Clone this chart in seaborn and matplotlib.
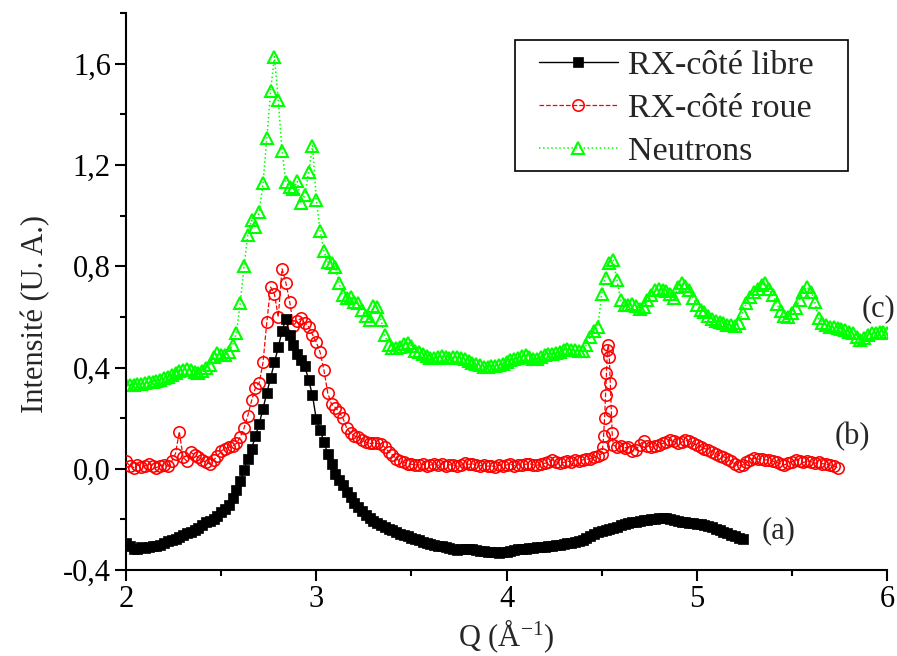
import numpy as np
import pandas as pd
import matplotlib
matplotlib.use("Agg")
import matplotlib.pyplot as plt
import seaborn as sns
from matplotlib.ticker import MultipleLocator, FuncFormatter
from matplotlib.patches import Rectangle

# ---------------- data ----------------
# (a) RX-côté libre : Q from 2.00 to 5.24, step 0.02
libre_q = np.round(np.linspace(2.00, 5.24, 163), 3)
libre_i = [
    -0.293, -0.305, -0.318, -0.315, -0.310, -0.312, -0.308, -0.305, -0.303, -0.300,
    -0.292, -0.285, -0.280, -0.276, -0.270, -0.262, -0.255, -0.250, -0.242, -0.232,
    -0.222, -0.212, -0.205, -0.198, -0.188, -0.172, -0.160, -0.142, -0.115, -0.085,
    -0.050, -0.005, 0.040, 0.080, 0.128, 0.178, 0.238, 0.300, 0.360, 0.420,
    0.480, 0.545, 0.592, 0.530, 0.490, 0.455, 0.430, 0.405, 0.350, 0.290,
    0.195, 0.155, 0.105, 0.060, 0.020, -0.020, -0.045, -0.065, -0.090, -0.110,
    -0.135, -0.150, -0.165, -0.182, -0.195, -0.205, -0.213, -0.222, -0.230, -0.236,
    -0.243, -0.250, -0.256, -0.262, -0.266, -0.272, -0.278, -0.283, -0.288, -0.292,
    -0.296, -0.300, -0.303, -0.306, -0.310, -0.314, -0.316, -0.319, -0.318, -0.315,
    -0.316, -0.318, -0.322, -0.325, -0.326, -0.328, -0.330, -0.329, -0.332, -0.330,
    -0.328, -0.324, -0.320, -0.318, -0.315, -0.316, -0.314, -0.312, -0.310, -0.308,
    -0.307, -0.306, -0.304, -0.302, -0.300, -0.298, -0.295, -0.292, -0.288, -0.285,
    -0.280, -0.272, -0.264, -0.256, -0.248, -0.244, -0.240, -0.236, -0.232, -0.228,
    -0.222, -0.220, -0.216, -0.212, -0.210, -0.207, -0.204, -0.202, -0.200, -0.198,
    -0.196, -0.194, -0.196, -0.200, -0.203, -0.206, -0.210, -0.212, -0.214, -0.216,
    -0.218, -0.220, -0.222, -0.225, -0.230, -0.236, -0.242, -0.248, -0.254, -0.260,
    -0.266, -0.272, -0.278,
]

# (b) RX-côté roue : Q grid 2.00-4.48 (0.02), 4.500-4.560 (0.005), 4.58-5.74 (0.02)
roue_q = np.round(np.concatenate([
    np.linspace(2.00, 4.48, 125),
    np.linspace(4.50, 4.56, 13),
    np.linspace(4.58, 5.74, 59),
]), 3)
roue_i = [
    0.030, 0.010, 0.005, 0.015, 0.008, 0.012, 0.020, 0.010, 0.005, 0.012,
    0.015, 0.010, 0.030, 0.060, 0.147, 0.045, 0.030, 0.065, 0.055, 0.045,
    0.035, 0.025, 0.020, 0.035, 0.050, 0.070, 0.080, 0.085, 0.090, 0.100,
    0.125, 0.160, 0.210, 0.270, 0.320, 0.340, 0.420, 0.580, 0.718, 0.690,
    0.600, 0.790, 0.735, 0.660, 0.565, 0.585, 0.594, 0.575, 0.561, 0.530,
    0.500, 0.460, 0.390, 0.300, 0.255, 0.242, 0.225, 0.200, 0.160, 0.140,
    0.130, 0.125, 0.115, 0.105, 0.100, 0.102, 0.100, 0.098, 0.085, 0.068,
    0.055, 0.040, 0.030, 0.025, 0.020, 0.018, 0.016, 0.015, 0.018, 0.012,
    0.015, 0.018, 0.014, 0.020, 0.012, 0.016, 0.015, 0.010, 0.014, 0.022,
    0.018, 0.020, 0.015, 0.012, 0.016, 0.010, 0.012, 0.008, 0.014, 0.012,
    0.015, 0.018, 0.012, 0.016, 0.014, 0.018, 0.020, 0.016, 0.014, 0.018,
    0.022, 0.025, 0.035, 0.028, 0.022, 0.025, 0.030, 0.028, 0.035, 0.032,
    0.035, 0.038, 0.040, 0.045, 0.050,
    # spike
    0.060, 0.085, 0.130, 0.200, 0.290, 0.380, 0.470, 0.490, 0.440, 0.340, 0.230, 0.140, 0.095,
    # 4.58 ...
    0.085, 0.090, 0.082, 0.088, 0.070, 0.075, 0.095, 0.110, 0.092, 0.085,
    0.090, 0.095, 0.100, 0.105, 0.112, 0.108, 0.100, 0.105, 0.112, 0.108,
    0.100, 0.095, 0.088, 0.080, 0.075, 0.068, 0.060, 0.052, 0.048, 0.040,
    0.030, 0.020, 0.012, 0.015, 0.025, 0.035, 0.042, 0.038, 0.040, 0.035,
    0.035, 0.030, 0.025, 0.020, 0.016, 0.022, 0.028, 0.035, 0.032, 0.025,
    0.030, 0.028, 0.022, 0.025, 0.020, 0.018, 0.015, 0.010, 0.005,
]

# (c) Neutrons : Q from 2.00 to 6.00, step 0.02
neutrons_q = np.round(np.linspace(2.00, 6.00, 201), 3)
neutrons_i = [
    0.330, 0.332, 0.333, 0.335, 0.336, 0.338, 0.341, 0.344, 0.347, 0.352,
    0.358, 0.363, 0.370, 0.378, 0.385, 0.392, 0.394, 0.390, 0.383, 0.380,
    0.386, 0.398, 0.412, 0.440, 0.458, 0.450, 0.448, 0.462, 0.490, 0.535,
    0.653, 0.800, 0.922, 0.981, 0.955, 1.014, 1.128, 1.306, 1.494, 1.628,
    1.457, 1.254, 1.132, 1.113, 1.106, 1.135, 1.050, 1.083, 1.172, 1.277,
    1.060, 0.939, 0.859, 0.817, 0.811, 0.797, 0.732, 0.686, 0.673, 0.679,
    0.659, 0.653, 0.627, 0.605, 0.587, 0.642, 0.640, 0.587, 0.528, 0.489,
    0.478, 0.476, 0.480, 0.492, 0.498, 0.485, 0.465, 0.460, 0.452, 0.445,
    0.438, 0.436, 0.440, 0.445, 0.443, 0.438, 0.440, 0.442, 0.438, 0.434,
    0.425, 0.419, 0.415, 0.410, 0.402, 0.401, 0.405, 0.408, 0.410, 0.415,
    0.420, 0.428, 0.432, 0.438, 0.445, 0.449, 0.440, 0.434, 0.432, 0.440,
    0.448, 0.453, 0.452, 0.458, 0.462, 0.468, 0.472, 0.470, 0.468, 0.466,
    0.466, 0.490, 0.521, 0.545, 0.561, 0.692, 0.755, 0.813, 0.826, 0.745,
    0.666, 0.646, 0.648, 0.650, 0.645, 0.633, 0.640, 0.666, 0.685, 0.705,
    0.710, 0.706, 0.703, 0.690, 0.673, 0.720, 0.732, 0.722, 0.705, 0.675,
    0.646, 0.628, 0.618, 0.605, 0.592, 0.585, 0.578, 0.574, 0.570, 0.567,
    0.566, 0.575, 0.614, 0.655, 0.680, 0.700, 0.710, 0.725, 0.732, 0.712,
    0.685, 0.650, 0.625, 0.605, 0.600, 0.615, 0.635, 0.668, 0.700, 0.718,
    0.700, 0.660, 0.594, 0.575, 0.567, 0.562, 0.560, 0.556, 0.552, 0.548,
    0.540, 0.535, 0.522, 0.508, 0.515, 0.530, 0.536, 0.538, 0.540, 0.541,
    0.535,
]

series_labels = ["RX-côté libre", "RX-côté roue", "Neutrons"]
curve_tags = ["(a)", "(b)", "(c)"]
tag_q = [5.34, 5.725, 5.868]
tag_i = [-0.245, 0.128, 0.632]
y_ticks = [-0.4, 0.0, 0.4, 0.8, 1.2, 1.6]
x_ticks = [2, 3, 4, 5, 6]

# ---------------- style ----------------
sns.set_style("ticks")
plt.rcParams["font.family"] = ["Liberation Serif", "DejaVu Serif"]
plt.rcParams["mathtext.fontset"] = "custom"
plt.rcParams["mathtext.rm"] = "Liberation Serif"
plt.rcParams["mathtext.it"] = "Liberation Serif:italic"
FS = 22
LEG_FS = 24.5

fig = plt.figure(figsize=(8.97, 6.56), dpi=100)
ax = fig.add_axes([0.1405, 0.131, 0.8485, 0.849])

df_g = pd.DataFrame({"Q": neutrons_q, "I": neutrons_i})
df_r = pd.DataFrame({"Q": roue_q, "I": roue_i})
df_b = pd.DataFrame({"Q": libre_q, "I": libre_i})

sns.lineplot(data=df_g, x="Q", y="I", ax=ax, sort=False, estimator=None,
             color="#00ff00", linestyle=":", linewidth=1.1,
             marker="^", markersize=8, markerfacecolor="none",
             markeredgecolor="#00ff00", markeredgewidth=1.5,
             label=series_labels[2], zorder=2)
sns.lineplot(data=df_r, x="Q", y="I", ax=ax, sort=False, estimator=None,
             color="#ff0000", linestyle="--", linewidth=0.9,
             marker="o", markersize=8.2, markerfacecolor="none",
             markeredgecolor="#ff0000", markeredgewidth=1.15,
             label=series_labels[1], zorder=3)
sns.lineplot(data=df_b, x="Q", y="I", ax=ax, sort=False, estimator=None,
             color="black", linestyle="-", linewidth=1.0,
             marker="s", markersize=7.2, markerfacecolor="black",
             markeredgecolor="black", markeredgewidth=0.5,
             label=series_labels[0], zorder=4)

for t, qx, iy in zip(curve_tags, tag_q, tag_i):
    ax.text(qx, iy, t, fontsize=FS, ha="left", va="center", clip_on=False)

ax.set_xlim(2, 6)
ax.set_ylim(-0.4, 1.8)
ax.set_xticks(x_ticks)
ax.set_yticks(y_ticks)
ax.xaxis.set_minor_locator(MultipleLocator(0.5))
ax.yaxis.set_minor_locator(MultipleLocator(0.2))
ax.yaxis.set_major_formatter(FuncFormatter(lambda v, p: f"{v:.1f}".replace(".", ",").replace("\u2212", "-")))
ax.xaxis.set_major_formatter(FuncFormatter(lambda v, p: f"{v:g}"))
ax.tick_params(axis="both", which="major", direction="out", length=8, width=1.5,
               labelsize=FS, color="black", labelcolor="black", pad=3)
ax.tick_params(axis="both", which="minor", direction="out", length=4.5, width=1.5,
               color="black")
sns.despine(ax=ax)
for s in ["left", "bottom"]:
    ax.spines[s].set_linewidth(1.5)
    ax.spines[s].set_color("black")

ax.set_xlabel("Q (Å$^{-1}$)", fontsize=FS, labelpad=2)
ax.set_ylabel("Intensité (U. A.)", fontsize=FS)
ax.yaxis.set_label_coords(-0.100, 0.46)

# legend: frame drawn as a box, entries placed inside it
ax.add_patch(Rectangle((0.511, 0.716), 0.438, 0.235, transform=ax.transAxes,
                       facecolor="white", edgecolor="black", linewidth=1.2,
                       zorder=5, clip_on=False))
handles, labels = ax.get_legend_handles_labels()
order = [labels.index(l) for l in series_labels]
leg = ax.legend([handles[i] for i in order], [labels[i] for i in order],
                loc="upper left", bbox_to_anchor=(0.543, 0.934), borderaxespad=0,
                fontsize=LEG_FS, frameon=False, handlelength=2.3, handletextpad=0.3,
                labelspacing=0.36, borderpad=0.0, numpoints=1)
leg.set_zorder(6)

fig.savefig("out.png", dpi=100)
